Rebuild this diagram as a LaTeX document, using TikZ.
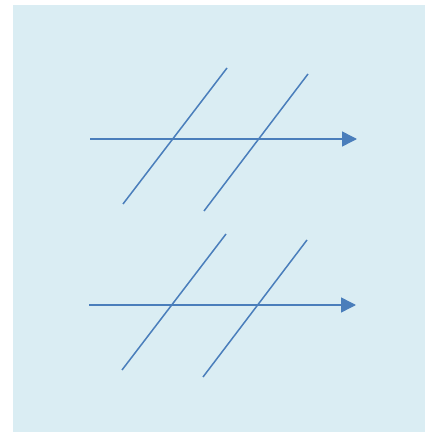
\documentclass[tikz,border=0pt]{standalone}
\usetikzlibrary{arrows.meta}
\definecolor{panelblue}{HTML}{DAEDF3}
\definecolor{lineblue}{HTML}{4A7EBB}

\begin{document}
\begin{tikzpicture}[x=1pt,y=1pt,
   stroke/.style={lineblue,line width=1.5pt},
   arrowline/.style={stroke,-{Triangle[length=15pt,width=15pt]}}
]
   \useasboundingbox (0,0) rectangle (425,432);
   \fill[panelblue] (13,0) rectangle (425,427);
   \foreach \i/\x/\y in {1/0/0,2/-1/-166} {
      \coordinate (a\i) at ({90+\x},{293+\y});
      \coordinate (e\i) at ({357+\x},{293+\y});
      \coordinate (p\i) at ({123+\x},{228+\y});
      \coordinate (q\i) at ({227+\x},{364+\y});
      \coordinate (s\i) at ({204+\x},{221+\y});
      \coordinate (t\i) at ({308+\x},{358+\y});

      \draw[arrowline] (a\i) -- (e\i);
      \draw[stroke] (p\i) -- (q\i);
      \draw[stroke] (s\i) -- (t\i);
   }
\end{tikzpicture}
\end{document}
